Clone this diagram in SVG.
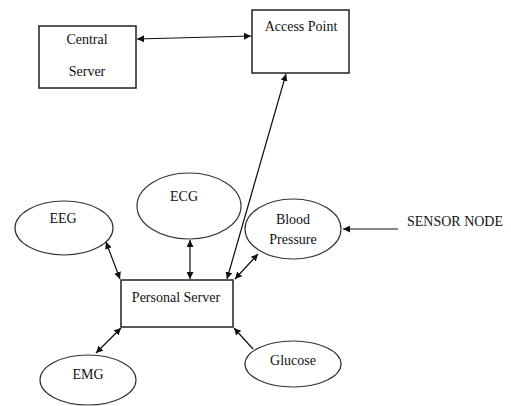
<svg xmlns="http://www.w3.org/2000/svg" width="511" height="406" viewBox="0 0 511 406">
<style>
.box{fill:#fff;stroke:#222;stroke-width:1.5}
.ell{fill:#fff;stroke:#333;stroke-width:1.2}
.t{font-family:'Liberation Serif','DejaVu Serif','Times New Roman',serif;font-size:14px;fill:#111;text-anchor:middle}
.c{stroke:#111;stroke-width:1.2;fill:none}
</style>
<defs>
<marker id="ah" viewBox="0 0 10 10" refX="10" refY="5" markerWidth="7" markerHeight="7" markerUnits="userSpaceOnUse" orient="auto-start-reverse">
<path d="M0,0 L10,5 L0,10 z" fill="#111"/>
</marker>
</defs>
<rect width="511" height="406" fill="#fff"/>
<g id="central-server">
<rect class="box" x="39" y="26" width="97" height="62"/>
<text class="t" x="87" y="44">Central</text>
<text class="t" x="87" y="76">Server</text>
</g>
<g id="access-point">
<rect class="box" x="252" y="10" width="97" height="63"/>
<text class="t" x="301" y="31">Access Point</text>
</g>
<g id="personal-server">
<rect class="box" x="121" y="280" width="112" height="47"/>
<text class="t" x="176" y="302">Personal Server</text>
</g>
<g id="eeg">
<ellipse class="ell" cx="64" cy="228" rx="49" ry="27"/>
<text class="t" x="63" y="223">EEG</text>
</g>
<g id="ecg">
<ellipse class="ell" cx="189" cy="206" rx="52" ry="33"/>
<text class="t" x="184" y="201">ECG</text>
</g>
<g id="blood-pressure">
<ellipse class="ell" cx="293" cy="229" rx="48" ry="30"/>
<text class="t" x="293" y="224">Blood</text>
<text class="t" x="293" y="244">Pressure</text>
</g>
<g id="emg">
<ellipse class="ell" cx="88" cy="380" rx="48" ry="25"/>
<text class="t" x="88" y="379">EMG</text>
</g>
<g id="glucose">
<ellipse class="ell" cx="293" cy="364" rx="48" ry="23"/>
<text class="t" x="293" y="365">Glucose</text>
</g>
<g id="sensor-node-label">
<text class="t" x="455" y="226">SENSOR NODE</text>
</g>
<g id="connectors">
<line class="c" x1="137" y1="39" x2="251" y2="36" marker-start="url(#ah)" marker-end="url(#ah)"/>
<line class="c" x1="227" y1="279" x2="286" y2="74" marker-start="url(#ah)" marker-end="url(#ah)"/>
<line class="c" x1="106" y1="242" x2="120" y2="279" marker-start="url(#ah)" marker-end="url(#ah)"/>
<line class="c" x1="190" y1="240" x2="190" y2="279" marker-start="url(#ah)" marker-end="url(#ah)"/>
<line class="c" x1="258" y1="254" x2="235" y2="279" marker-start="url(#ah)" marker-end="url(#ah)"/>
<line class="c" x1="398" y1="229" x2="343" y2="229" marker-end="url(#ah)"/>
<line class="c" x1="96" y1="353" x2="121" y2="328" marker-start="url(#ah)" marker-end="url(#ah)"/>
<line class="c" x1="253" y1="349" x2="234" y2="328" marker-end="url(#ah)"/>
</g>
</svg>
